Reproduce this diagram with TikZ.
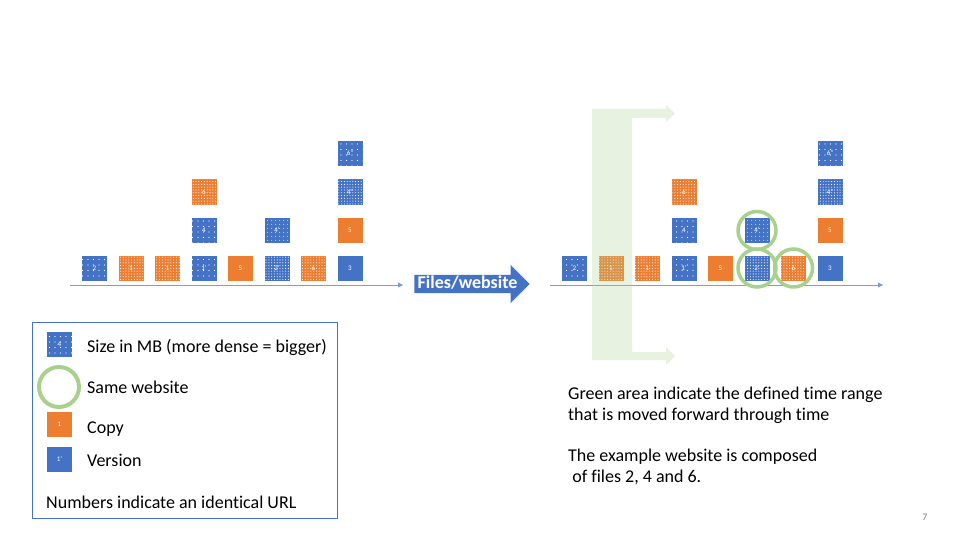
\documentclass[tikz,border=0pt]{standalone}
\usepackage{fontspec}
\setmainfont{Carlito}[Ligatures=NoCommon]
\usetikzlibrary{patterns.meta, shapes.arrows, arrows.meta}
\definecolor{vblue}{HTML}{4472C4}
\definecolor{corange}{HTML}{ED7D31}
\definecolor{cgreen}{HTML}{A9D18E}

\begin{document}
\begin{tikzpicture}[x=1pt, y=-1pt,
  file/.style={shape=rectangle, minimum size=25pt, inner sep=0pt, text=white,
    font=\fontsize{7}{8}\selectfont},
  ver/.style={file, fill=vblue},
  cpy/.style={file, fill=corange},
  sparse/.style={postaction={pattern={Dots[distance=5.5pt, radius=.6pt]}, pattern color=white}},
  medium/.style={postaction={pattern={Dots[distance=4pt, radius=.55pt]}, pattern color=white}},
  dense/.style={postaction={pattern={Dots[distance=2.8pt, radius=.55pt]}, pattern color=white}},
  website/.style={shape=circle, draw=cgreen, line width=3.5pt, minimum size=38pt, inner sep=0pt},
  timeline/.style={draw=vblue!70, line width=.8pt, -{Triangle[length=5pt, width=5pt]}},
  words/.style={inner sep=0pt, font=\fontsize{18}{21}\selectfont, align=left}
]
\path[fill=white] (0,0) rectangle (960,540);
\useasboundingbox (0,0) rectangle (960,540);

% before
\node[ver, sparse] at ( 94.5, 268) (la1) {2};
\node[cpy, dense]  at (131,   268) (la2) {1};
\node[cpy, dense]  at (167.5, 268) (la3) {1};
\node[ver, sparse] at (204,   268) (la4) {1'};
\node[cpy]         at (240.5, 268) (la5) {5};
\node[ver, dense]  at (277,   268) (la6) {2'};
\node[cpy, dense]  at (313.5, 268) (la7) {6};
\node[ver]         at (350,   268) (la8) {3};
\node[ver, sparse] at (204,   230.5) (lb4) {4};
\node[ver, medium] at (277,   230.5) (lb6) {4'};
\node[cpy]         at (350,   230.5) (lb8) {5};
\node[cpy, dense]  at (204,   192) (lc4) {6};
\node[ver, dense]  at (350,   192) (lc8) {4''};
\node[ver, sparse] at (350,   153.5) (ld8) {6''};

\coordinate (lt0) at (70, 285);
\coordinate (lt1) at (403, 285);
\draw[timeline] (lt0) -- (lt1);

\node[shape=single arrow, fill=vblue, text=white,
  font=\fontsize{18}{20}\bfseries\selectfont,
  single arrow head extend=10pt, single arrow tip angle=90,
  inner xsep=3pt, inner ysep=0pt, text height=13pt, text depth=5pt] at (467.5, 284)
(move) {Files/website};

% after
\node[ver, sparse] at (574.5, 268) (ra1) {2};
\node[cpy, dense]  at (611,   268) (ra2) {1};
\node[cpy, dense]  at (647.5, 268) (ra3) {1};
\node[ver, sparse] at (684,   268) (ra4) {1'};
\node[cpy]         at (720.5, 268) (ra5) {5};
\node[ver, dense]  at (757,   268) (ra6) {2'};
\node[cpy, dense]  at (793.5, 268) (ra7) {6};
\node[ver]         at (830,   268) (ra8) {3};
\node[ver, sparse] at (684,   230.5) (rb4) {4};
\node[ver, medium] at (757,   230.5) (rb6) {4'};
\node[cpy]         at (830,   230.5) (rb8) {5};
\node[cpy, dense]  at (684,   192) (rc4) {6};
\node[ver, dense]  at (830,   192) (rc8) {4''};
\node[ver, sparse] at (830,   153.5) (rd8) {6''};

\coordinate (rt0) at (550, 285);
\coordinate (rt1) at (883, 285);
\draw[timeline] (rt0) -- (rt1);

\node[website] at (rb6) (w1) {};
\node[website] at (ra6) (w2) {};
\node[website] at (ra7) (w3) {};

% time range
\fill[cgreen, fill opacity=.27]
  (592,360) -- (592,109) -- (666,109) -- (666,105) -- (675,113.5) -- (666,122)
  -- (666,118) -- (632,118) -- (632,352) -- (666,352) -- (666,347) -- (675,356)
  -- (666,365) -- (666,360) -- cycle;

\node[words, anchor=base west] at (568, 420)
(range) {Green area indicate the defined time range\\that is moved forward through time};
\node[words, anchor=base west] at (568, 482)
(example) {The example website is composed\\\ of files 2, 4 and 6.};

% legend
\node[draw=vblue, line width=.8pt, minimum width=305pt, minimum height=196pt,
  anchor=north west, inner sep=0pt] at (32, 322)
(legend) {};
\node[ver, sparse] at (59.5, 344.5) (k1) {4};
\node[website, minimum size=40pt, line width=4pt] at (59, 387) (k2) {};
\node[cpy] at (59.5, 424.5) (k3) {1};
\node[ver] at (59.5, 459.5) (k4) {1'};
\node[words, anchor=base west] at (87, 352) (t1) {Size in MB (more dense = bigger)};
\node[words, anchor=base west] at (87, 393) (t2) {Same website};
\node[words, anchor=base west] at (87, 433) (t3) {Copy};
\node[words, anchor=base west] at (87, 466) (t4) {Version};
\node[words, anchor=base west] at (46, 508) (t5) {Numbers indicate an identical URL};

\node[text=gray, font=\fontsize{10}{12}\selectfont] at (925, 517) (page) {7};
\end{tikzpicture}
\end{document}
